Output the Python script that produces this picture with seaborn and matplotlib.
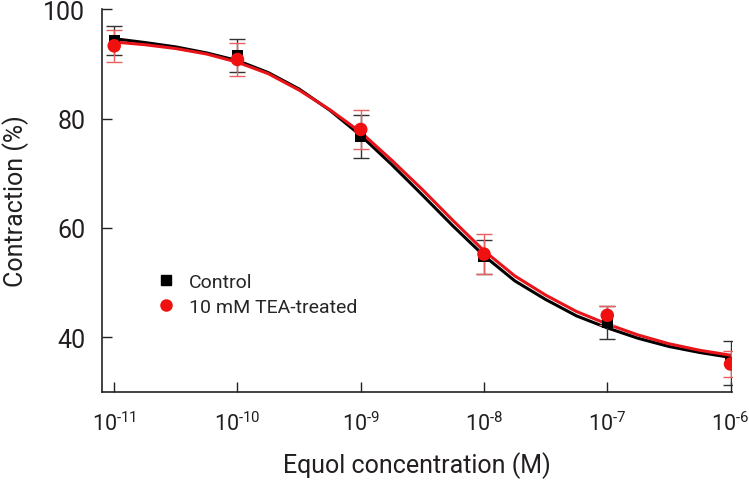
import numpy as np
import matplotlib as mpl
import matplotlib.pyplot as plt
import seaborn as sns
from matplotlib.lines import Line2D

sns.set_theme(style="ticks")
plt.rcParams['font.family'] = ['Roboto', 'DejaVu Sans']
plt.rcParams['mathtext.default'] = 'regular'

# measured points (log10 of molar concentration)
log_conc = [-11, -10, -9, -8, -7, -6]
control_mean = [94.3, 91.6, 76.7, 54.7, 42.7, 35.3]
control_err = [2.6, 3.0, 4.0, 3.1, 3.0, 4.0]
tea_mean = [93.3, 90.8, 78.0, 55.2, 44.0, 35.1]
tea_err = [2.9, 3.0, 3.6, 3.6, 1.7, 2.4]

# fitted curves
curve_log = [-11, -10.75, -10.5, -10.25, -10, -9.75, -9.5, -9.25, -9, -8.75, -8.5,
             -8.25, -8, -7.75, -7.5, -7.25, -7, -6.75, -6.5, -6.25, -6]
control_fit = [94.6, 93.9, 93.1, 92.0, 90.6, 88.4, 85.4, 81.5, 76.9, 71.6, 66.0,
               60.3, 54.9, 50.3, 46.9, 43.9, 41.7, 39.8, 38.3, 37.2, 36.3]
tea_fit = [94.0, 93.5, 92.8, 91.8, 90.3, 88.2, 85.2, 81.6, 77.5, 72.4, 67.0,
           61.3, 55.8, 51.2, 47.7, 44.7, 42.4, 40.4, 38.8, 37.6, 36.7]

# superscripts use a hyphen like the original labels
tick_labels = ['$10^{\u2010' + str(-e) + '}$' for e in log_conc]

conc = 10.0 ** np.array(log_conc)
curve_x = 10.0 ** np.array(curve_log)

fig = plt.figure(figsize=(7.49, 4.85), dpi=100)
ax = fig.add_axes([0.136, 0.19, 0.841, 0.789])

sns.lineplot(x=curve_x, y=control_fit, color='black', linewidth=2.2, ax=ax)
sns.lineplot(x=curve_x, y=tea_fit, color='#e8141a', linewidth=2.2, ax=ax)

ax.errorbar(conc, control_mean, yerr=control_err, fmt='none', ecolor='#333333',
            elinewidth=1, capsize=6, capthick=1, zorder=3)
ax.errorbar(conc, tea_mean, yerr=tea_err, fmt='none', ecolor='#e86060',
            elinewidth=1, capsize=6, capthick=1, zorder=3)
sns.scatterplot(x=conc, y=control_mean, marker='s', s=65, color='black',
                edgecolor='none', ax=ax, zorder=4)
sns.scatterplot(x=conc, y=tea_mean, marker='o', s=95, color='#f01010',
                edgecolor='none', ax=ax, zorder=5)

ax.set_xscale('log')
ax.set_xlim(10 ** -11.1, 10 ** -5.99)
ax.set_ylim(30, 100)
ax.set_xticks(conc)
ax.set_xticklabels(tick_labels)
ax.minorticks_off()
ax.set_yticks([40, 60, 80, 100])

for s in ['top', 'right']:
    ax.spines[s].set_visible(False)
for s in ['left', 'bottom']:
    ax.spines[s].set_color('#222222')
    ax.spines[s].set_linewidth(1.2)
ax.tick_params(axis='both', direction='in', length=7, width=1, color='#222222',
               labelcolor='#231f20')
ax.tick_params(axis='y', pad=12, labelsize=18)
ax.tick_params(axis='x', pad=14, labelsize=15.5)

ax.set_xlabel("Equol concentration (M)", fontsize=18, color='#231f20', labelpad=12)
ax.set_ylabel("Contraction (%)", fontsize=18, color='#231f20', labelpad=10)

handles = [
    Line2D([], [], marker='s', color='black', linestyle='none', markersize=7),
    Line2D([], [], marker='o', color='#f01010', linestyle='none', markersize=8),
]
ax.legend(handles, ["Control", "10 mM TEA-treated"], frameon=False, fontsize=14,
          loc='center left', bbox_to_anchor=(0.055, 0.255), handletextpad=0.6,
          labelspacing=0.35, handlelength=1.2)

fig.savefig("out.png", dpi=100)
